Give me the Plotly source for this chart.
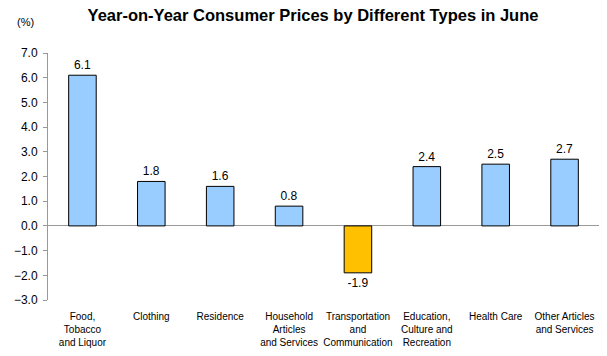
import plotly.graph_objects as go

categories = ["Food,<br>Tobacco<br>and Liquor", "Clothing", "Residence",
              "Household<br>Articles<br>and Services", "Transportation<br>and<br>Communication",
              "Education,<br>Culture and<br>Recreation", "Health Care",
              "Other Articles<br>and Services"]
values = [6.1, 1.8, 1.6, 0.8, -1.9, 2.4, 2.5, 2.7]
colors = ["#99CCFF" if v >= 0 else "#FFC000" for v in values]

W, H = 607, 356
L, R, T, B = 48, 8, 53, 56
pw, ph = W - L - R, H - T - B

fig = go.Figure(go.Bar(
    x=categories, y=values,
    marker=dict(color=colors, line=dict(color="#000000", width=1)),
    width=0.4,
    text=[f"{v:.1f}" for v in values], textposition="outside",
    textfont=dict(family="Liberation Sans, Arial", size=12, color="#000000"),
    cliponaxis=False,
))

fig.update_layout(
    width=W, height=H,
    margin=dict(l=L, r=R, t=T, b=B),
    paper_bgcolor="white", plot_bgcolor="white",
    showlegend=False,
    title=dict(text="<b>Year-on-Year Consumer Prices by Different Types in June</b>",
               x=313 / W, xanchor="center", y=1 - 15 / H, yanchor="middle",
               font=dict(family="Liberation Sans, Arial", size=16.5, color="#000000")),
    font=dict(family="Liberation Sans, Arial", color="#000000"),
    annotations=[dict(text="(%)", x=(25 - L) / pw, y=(H - B - 22) / ph,
                      xref="paper", yref="paper", xanchor="center", yanchor="middle",
                      showarrow=False, font=dict(size=11, color="#000000"))],
)

fig.update_yaxes(range=[-3, 7], dtick=1, tickformat=".1f", automargin=False,
                 showgrid=False, zeroline=True, zerolinecolor="#999999", zerolinewidth=1,
                 showline=True, linecolor="#999999", linewidth=1,
                 ticks="outside", ticklen=4, tickcolor="#999999",
                 ticklabelstandoff=3,
                 tickfont=dict(size=12, color="#000000"))
fig.update_xaxes(showgrid=False, showline=False, ticks="", automargin=False,
                 ticklabelstandoff=9,
                 tickfont=dict(size=10, color="#000000"), tickangle=0)

fig.write_html("out.html", config={"displayModeBar": False},
               post_script="document.body.style.margin='0';document.documentElement.style.overflow='hidden';")
